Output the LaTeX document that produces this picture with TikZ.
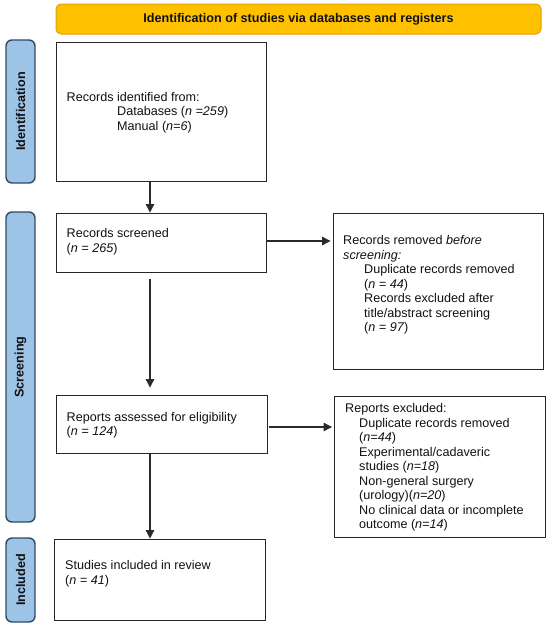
\documentclass[tikz,border=0pt]{standalone}
\usepackage{fontspec}
\setmainfont{Liberation Sans}
\usetikzlibrary{arrows.meta}
\definecolor{titlefill}{HTML}{FFC000}
\definecolor{titleline}{HTML}{E0A400}
\definecolor{sidefill}{HTML}{9DC3E6}
\definecolor{sideline}{HTML}{2F4A66}
\definecolor{arrowcol}{HTML}{2A2A2A}
\definecolor{textcol}{HTML}{111111}
\begin{document}
\begin{tikzpicture}[x=1pt,y=-1pt,
  every node/.style={font=\fontsize{12.6}{14.5}\selectfont, text=textcol},
  titlebox/.style={draw=titleline, fill=titlefill, rounded corners=5pt, line width=1pt,
    font=\bfseries\fontsize{12.6}{14.5}\selectfont, inner sep=0pt},
  sidebox/.style={draw=sideline, fill=sidefill, rounded corners=6pt, line width=1.4pt,
    rotate=90, font=\bfseries\fontsize{12.6}{14.5}\selectfont, inner sep=0pt, minimum height=29pt},
  flowbox/.style={draw=black!85, line width=0.9pt, inner sep=0pt},
  txt/.style={anchor=north west, inner sep=0pt, align=left},
  arr/.style={draw=arrowcol, line width=1.1pt, -{Triangle[length=8.5pt,width=8.5pt]}}
]
\useasboundingbox (0,0) rectangle (550,627);

% title
\node[titlebox, minimum width=485pt, minimum height=30pt] (title) at (298.5,19)
  {Identification of studies via databases and registers};

% side labels
\node[sidebox, minimum width=143pt] (sid) at (20.5,111.5) {Identification};
\node[sidebox, minimum width=310pt] (sscr) at (20.5,367) {Screening};
\node[sidebox, minimum width=84pt] (sinc) at (20.5,580) {Included};

% boxes
\node[flowbox, minimum width=210pt, minimum height=139pt] (box1) at (161,111.5) {};
\node[flowbox, minimum width=210pt, minimum height=59pt] (box2) at (161,242.5) {};
\node[flowbox, minimum width=210pt, minimum height=156pt] (rbox1) at (438,291) {};
\node[flowbox, minimum width=211pt, minimum height=58pt] (box3) at (161.5,424) {};
\node[flowbox, minimum width=211pt, minimum height=141pt] (rbox2) at (439.5,466.5) {};
\node[flowbox, minimum width=211pt, minimum height=81pt] (box4) at (159.5,579.5) {};

% texts
\node[txt] (t1) at (66.5,91) {\strut Records identified from:\\
  \hspace*{50.5pt}Databases (\textit{n =259})\\
  \hspace*{50.5pt}Manual (\textit{n=6})};
\node[txt] (t2) at (66.5,227.5) {\strut Records screened\\(\textit{n = 265})};
\node[txt] (t3) at (343,234.5) {\strut Records removed \textit{before}\\
  \textit{screening:}\\
  \hspace*{21pt}Duplicate records removed\\
  \hspace*{21pt}(\textit{n = 44})\\
  \hspace*{21pt}Records excluded after\\
  \hspace*{21pt}title/abstract screening\\
  \hspace*{21pt}(\textit{n = 97})};
\node[txt] (t4) at (66.5,411) {\strut Reports assessed for eligibility\\(\textit{n = 124})};
\node[txt] (t5) at (345,402.5) {\strut Reports excluded:\\
  \hspace*{14pt}Duplicate records removed\\
  \hspace*{14pt}(\textit{n=44})\\
  \hspace*{14pt}Experimental/cadaveric\\
  \hspace*{14pt}studies (\textit{n=18})\\
  \hspace*{14pt}Non-general surgery\\
  \hspace*{14pt}(urology)(\textit{n=20})\\
  \hspace*{14pt}No clinical data or incomplete\\
  \hspace*{14pt}outcome (\textit{n=14})};
\node[txt] (t6) at (65,559.5) {\strut Studies included in review\\(\textit{n = 41})};

% connectors
\coordinate (colx) at (150,0);
\coordinate (row1) at (0,241);
\coordinate (row2) at (0,427);
\draw[arr] (box1.south -| colx) -- (box2.north -| colx);
\draw[arr, shorten <=7pt, shorten >=7pt] (box2.south -| colx) -- (box3.north -| colx);
\draw[arr] (box3.south -| colx) -- (box4.north -| colx);
\draw[arr, shorten >=2pt] (box2.east |- row1) -- (rbox1.west |- row1);
\draw[arr, shorten <=2pt, shorten >=1.5pt] (box3.east |- row2) -- (rbox2.west |- row2);
\end{tikzpicture}
\end{document}
